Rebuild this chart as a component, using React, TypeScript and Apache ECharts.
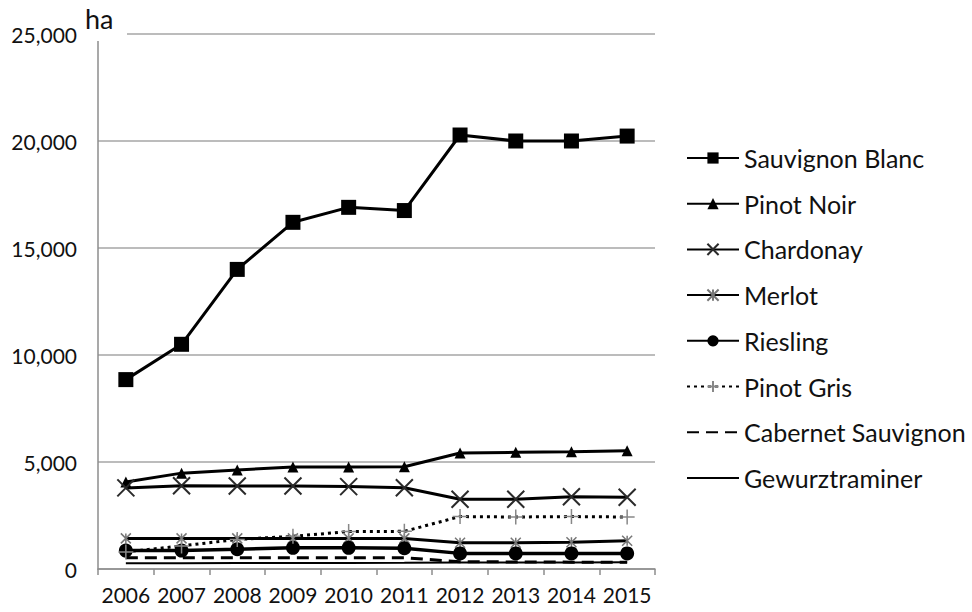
import React, { useEffect, useRef } from "react";
import * as echarts from "echarts";

// Vineyard area by variety (hectares), 2006–2015
const years = ["2006", "2007", "2008", "2009", "2010", "2011", "2012", "2013", "2014", "2015"];
const sauvignonBlanc = [8850, 10500, 14000, 16200, 16900, 16750, 20280, 20000, 20000, 20230];
const pinotNoir = [4070, 4480, 4630, 4770, 4770, 4780, 5420, 5450, 5480, 5530];
const chardonay = [3790, 3890, 3880, 3880, 3850, 3800, 3260, 3260, 3380, 3350];
const merlot = [1430, 1430, 1430, 1430, 1430, 1430, 1230, 1230, 1250, 1320];
const riesling = [860, 860, 920, 990, 990, 970, 730, 730, 730, 730];
const pinotGris = [800, 1080, 1380, 1530, 1750, 1760, 2450, 2430, 2450, 2430];
const cabernetSauvignon = [530, 530, 530, 530, 530, 530, 340, 330, 320, 320];
const gewurztraminer = [270, 270, 275, 280, 285, 290, 300, 300, 300, 310];

const FONT = "Lato, 'Open Sans', sans-serif";
const CROSS = "path://M0,0L10,10M10,0L0,10";
const ASTERISK = "path://M0,0L10,10M10,0L0,10M5,0L5,10";
const PLUS = "path://M5,0L5,10M0,5L10,5";
const HIDDEN = { color: "rgba(0,0,0,0)", borderWidth: 0 };

export default function App() {
  const ref = useRef<HTMLDivElement>(null);

  useEffect(() => {
    if (!ref.current) return;
    const chart = echarts.init(ref.current, null, { renderer: "svg" });

    const solid = (w: number) => ({ color: "#000", width: w, type: "solid" as const });

    chart.setOption({
      animation: false,
      backgroundColor: "#fff",
      textStyle: { fontFamily: FONT },
      grid: { left: 98, right: 317, top: 34, bottom: 43 },
      legend: {
        orient: "vertical",
        left: 686,
        top: 145,
        padding: 0,
        itemWidth: 52,
        itemHeight: 14,
        itemGap: 19.7,
        textStyle: { fontFamily: FONT, fontSize: 25, color: "#111", lineHeight: 26 },
        data: [
          "Sauvignon Blanc",
          "Pinot Noir",
          "Chardonay",
          "Merlot",
          "Riesling",
          "Pinot Gris",
          "Cabernet Sauvignon",
          "Gewurztraminer",
        ],
      },
      xAxis: {
        type: "category",
        data: years,
        boundaryGap: true,
        axisLine: { lineStyle: { color: "#8c8c8c", width: 1.5 } },
        axisTick: { show: true, length: 6, lineStyle: { color: "#8c8c8c", width: 1.5 } },
        axisLabel: { interval: 0, fontFamily: FONT, fontSize: 21, color: "#111", margin: 15 },
        splitLine: { show: false },
      },
      yAxis: {
        type: "value",
        min: 0,
        max: 25000,
        interval: 5000,
        axisLine: { show: true, lineStyle: { color: "#8c8c8c", width: 1.5 } },
        axisTick: { show: false },
        axisLabel: {
          fontFamily: FONT,
          fontSize: 21,
          color: "#111",
          margin: 21,
          formatter: (v: number) => v.toLocaleString("en-US"),
        },
        splitLine: { lineStyle: { color: "#a6a6a6", width: 1.5 } },
      },
      graphic: [
        {
          type: "rect",
          left: 96,
          top: 26,
          shape: { width: 31, height: 15 },
          style: { fill: "#fff" },
          z: 10,
        },
        {
          type: "text",
          left: 85,
          top: 5,
          style: { text: "ha", fontFamily: FONT, fontSize: 27, fill: "#111" },
          z: 11,
        },
      ],
      series: [
        {
          name: "Sauvignon Blanc",
          type: "line",
          data: sauvignonBlanc,
          symbol: "rect",
          symbolSize: 15,
          itemStyle: { color: "#000" },
          lineStyle: solid(3),
        },
        {
          name: "Pinot Noir",
          type: "line",
          data: pinotNoir,
          symbol: "triangle",
          symbolSize: 11,
          itemStyle: { color: "#000" },
          lineStyle: solid(3),
        },
        {
          name: "Chardonay",
          type: "line",
          data: chardonay,
          symbol: CROSS,
          symbolSize: 17,
          itemStyle: { color: "none", borderColor: "#2a2a2a", borderWidth: 2 },
          lineStyle: solid(3),
        },
        {
          name: "Merlot",
          type: "line",
          data: merlot,
          symbol: ASTERISK,
          symbolSize: 10,
          itemStyle: { color: "none", borderColor: "#777", borderWidth: 1.5 },
          lineStyle: solid(3),
        },
        {
          name: "Riesling",
          type: "line",
          data: riesling,
          symbol: "circle",
          symbolSize: 14,
          itemStyle: { color: "#000" },
          lineStyle: solid(3.5),
        },
        {
          name: "Pinot Gris",
          type: "line",
          data: pinotGris,
          symbol: PLUS,
          symbolSize: 15,
          itemStyle: { color: "none", borderColor: "#888", borderWidth: 1.5 },
          lineStyle: { color: "#000", width: 3, type: [3, 4] },
        },
        {
          name: "Cabernet Sauvignon",
          type: "line",
          data: cabernetSauvignon,
          symbol: "circle",
          showSymbol: false,
          itemStyle: HIDDEN,
          lineStyle: { color: "#000", width: 3, type: [12, 7] },
        },
        {
          name: "Gewurztraminer",
          type: "line",
          data: gewurztraminer,
          symbol: "circle",
          showSymbol: false,
          itemStyle: HIDDEN,
          lineStyle: solid(2),
        },
      ],
    });

    return () => chart.dispose();
  }, []);

  return (
    <div
      ref={ref}
      style={{ position: "fixed", left: 0, top: 0, width: 972, height: 612, background: "#fff" }}
    />
  );
}
